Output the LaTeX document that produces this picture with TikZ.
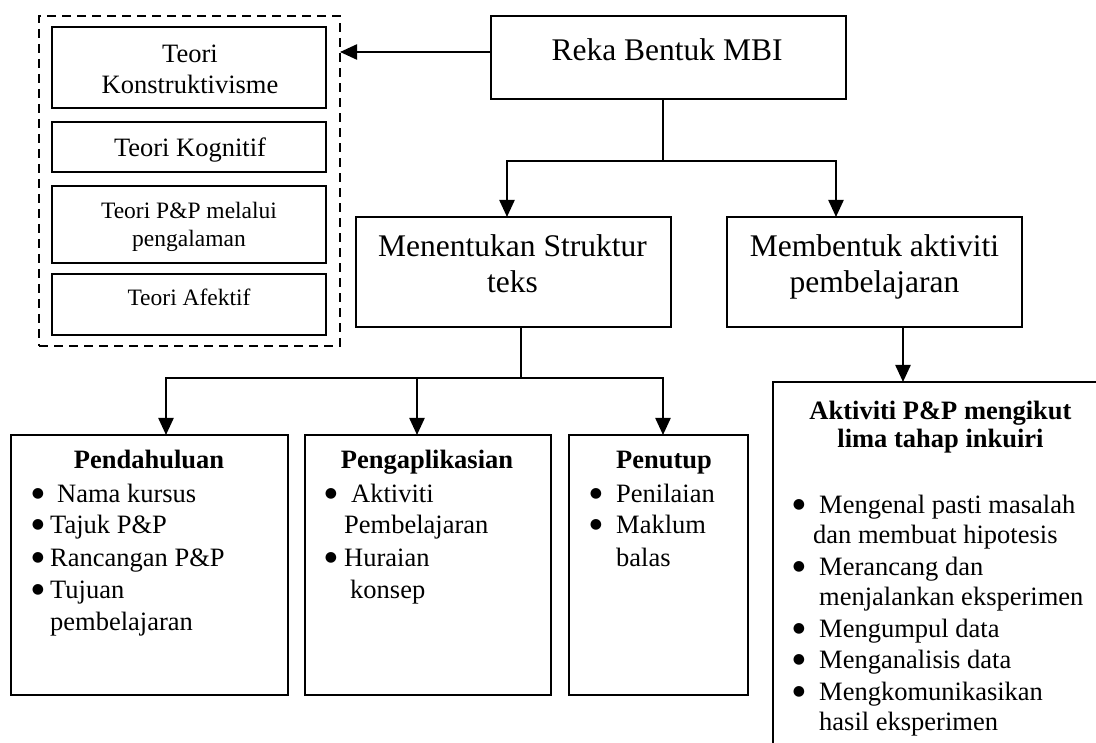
\documentclass[tikz,border=0pt]{standalone}
\usepackage{fontspec}
\setmainfont{Liberation Serif}
\newfontfamily\markfont{DejaVu Sans}
\usetikzlibrary{arrows.meta}

\tikzset{
  frame/.style={draw, line width=2.2pt, inner sep=0pt, outer sep=0pt},
  group/.style={draw, line width=1.6pt, dash pattern=on 9pt off 6pt, inner sep=0pt, outer sep=0pt},
  arr/.style={line width=2.3pt, -{Triangle[length=17pt,width=15pt]}},
  big/.style={font=\fontsize{31.5}{36}\selectfont, inner sep=0pt},
  mid/.style={font=\fontsize{26.5}{31}\selectfont, inner sep=0pt},
  small/.style={font=\fontsize{23.5}{27}\selectfont, inner sep=0pt},
  head/.style={font=\fontsize{26.5}{31}\selectfont\bfseries, inner sep=0pt},
  dot/.style={font=\markfont\fontsize{14}{14}\selectfont, inner sep=0pt, anchor=base, yshift=5pt},
}

\begin{document}
\begin{tikzpicture}[x=1pt, y=-1pt]
\useasboundingbox (0,0) rectangle (1096,743);
\begin{scope}
\clip (0,0) rectangle (1096,743);

% ---- theory group ----
\node[group, minimum width=301pt, minimum height=330pt] (theory) at (189.5,181) {};
\node[frame, minimum width=274pt, minimum height=81pt] (t1) at (189,67.5) {};
\node[frame, minimum width=274pt, minimum height=50pt] (t2) at (189,147) {};
\node[frame, minimum width=274pt, minimum height=77pt] (t3) at (189,224.5) {};
\node[frame, minimum width=274pt, minimum height=61pt] (t4) at (189,304.5) {};
\node[mid, anchor=base] (t1a) at (190,63) {Teori};
\node[mid, anchor=base] (t1b) at (190,94) {Konstruktivisme};
\node[mid, anchor=base] (t2a) at (190,157) {Teori Kognitif};
\node[small, anchor=base] (t3a) at (189,219) {Teori P\&P melalui};
\node[small, anchor=base] (t3b) at (189,247) {pengalaman};
\node[small, anchor=base] (t4a) at (189,306) {Teori Afektif};

% ---- top level ----
\node[frame, minimum width=355pt, minimum height=83pt] (reka) at (668.5,57.5) {};
\node[big, anchor=base] (rekat) at (667,61) {Reka Bentuk MBI};

% ---- second level ----
\node[frame, minimum width=315pt, minimum height=110pt] (ment) at (513.5,272) {};
\node[big, anchor=base] (menta) at (512.5,257) {Menentukan Struktur};
\node[big, anchor=base] (mentb) at (512.5,293) {teks};
\node[frame, minimum width=295pt, minimum height=110pt] (memb) at (874.5,272) {};
\node[big, anchor=base] (memba) at (874.5,257) {Membentuk aktiviti};
\node[big, anchor=base] (membb) at (874.5,293) {pembelajaran};

% ---- text structure boxes ----
\node[frame, minimum width=277pt, minimum height=260pt] (b1) at (149.5,565) {};
\node[frame, minimum width=246pt, minimum height=260pt] (b2) at (428,565) {};
\node[frame, minimum width=179pt, minimum height=260pt] (b3) at (658.5,565) {};

\node[head, anchor=base] (b1h) at (149,468) {Pendahuluan};
\node[dot] (b1d1) at (38,502) {●};
\node[mid, anchor=base west] (b1l1) at (57,502) {Nama kursus};
\node[dot] (b1d2) at (38,533) {●};
\node[mid, anchor=base west] (b1l2) at (50,533) {Tajuk P\&P};
\node[dot] (b1d3) at (38,566) {●};
\node[mid, anchor=base west] (b1l3) at (50,566) {Rancangan P\&P};
\node[dot] (b1d4) at (38,598) {●};
\node[mid, anchor=base west] (b1l4) at (50,598) {Tujuan};
\node[mid, anchor=base west] (b1l5) at (50,630) {pembelajaran};

\node[head, anchor=base] (b2h) at (427,468) {Pengaplikasian};
\node[dot] (b2d1) at (331,502) {●};
\node[mid, anchor=base west] (b2l1) at (351,502) {Aktiviti};
\node[mid, anchor=base west] (b2l2) at (344,533) {Pembelajaran};
\node[dot] (b2d2) at (331,566) {●};
\node[mid, anchor=base west] (b2l3) at (344,566) {Huraian};
\node[mid, anchor=base west] (b2l4) at (350,598) {konsep};

\node[head, anchor=base] (b3h) at (664,468) {Penutup};
\node[dot] (b3d1) at (596,502) {●};
\node[mid, anchor=base west] (b3l1) at (616,502) {Penilaian};
\node[dot] (b3d2) at (596,533) {●};
\node[mid, anchor=base west] (b3l2) at (616,533) {Maklum};
\node[mid, anchor=base west] (b3l3) at (616,566) {balas};

% ---- learning activity box ----
\node[frame, minimum width=337pt, minimum height=378pt] (act) at (941.5,571) {};
\node[head, anchor=base] (acth1) at (940.5,420) {Aktiviti P\&P mengikut};
\node[head, anchor=base] (acth2) at (940.5,448) {lima tahap inkuiri};
\node[dot] (ad1) at (799,513) {●};
\node[mid, anchor=base west] (al1) at (819,513) {Mengenal pasti masalah};
\node[mid, anchor=base west] (al2) at (813,543) {dan membuat hipotesis};
\node[dot] (ad2) at (799,575) {●};
\node[mid, anchor=base west] (al3) at (819,575) {Merancang dan};
\node[mid, anchor=base west] (al4) at (819,605) {menjalankan eksperimen};
\node[dot] (ad3) at (799,637) {●};
\node[mid, anchor=base west] (al5) at (819,637) {Mengumpul data};
\node[dot] (ad4) at (799,668) {●};
\node[mid, anchor=base west] (al6) at (819,668) {Menganalisis data};
\node[dot] (ad5) at (799,700) {●};
\node[mid, anchor=base west] (al7) at (819,700) {Mengkomunikasikan};
\node[mid, anchor=base west] (al8) at (819,730) {hasil eksperimen};

% ---- connectors ----
\coordinate (r1) at ([yshift=5.5pt]reka.west);
\draw[arr] (r1) -- (r1 -| theory.east);

\coordinate (s1) at (663,161);
\coordinate (s2) at (507,161);
\coordinate (s3) at (836,161);
\draw[arr] (s1 |- reka.south) -- (s1) -- (s3) -- (s3 |- memb.north);
\draw[arr] (s1) -- (s2) -- (s2 |- ment.north);

\coordinate (m1) at (521,378);
\coordinate (m2) at (166,378);
\coordinate (m3) at (417,378);
\coordinate (m4) at (663,378);
\draw[arr] (m1 |- ment.south) -- (m1) -- (m4) -- (m4 |- b3.north);
\draw[arr] (m1) -- (m2) -- (m2 |- b1.north);
\draw[arr] (m3) -- (m3 |- b2.north);

\coordinate (k1) at (903,327);
\draw[arr] (k1 |- memb.south) -- (k1 |- act.north);
\end{scope}
\end{tikzpicture}
\end{document}
